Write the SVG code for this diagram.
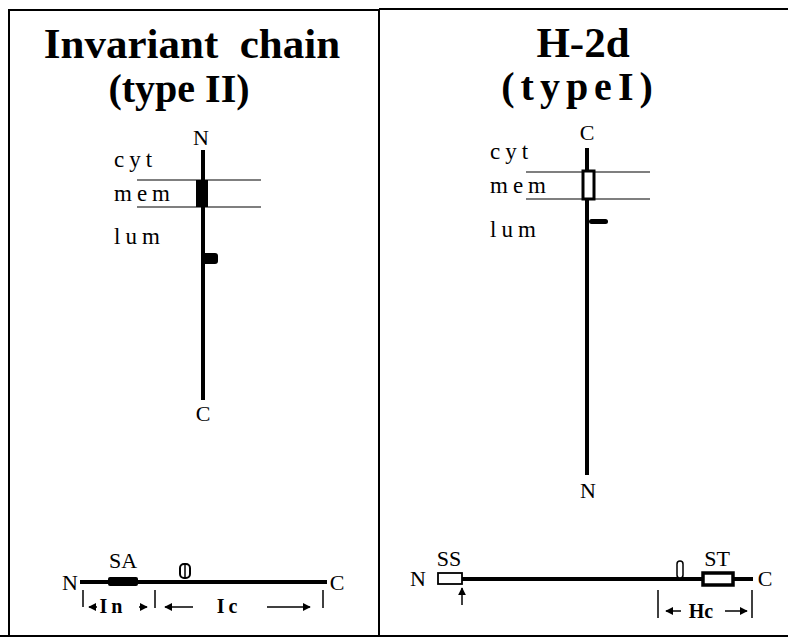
<svg xmlns="http://www.w3.org/2000/svg" width="788" height="638" viewBox="0 0 788 638">
<style>
.title{font-family:"Liberation Serif",serif;font-weight:bold;font-size:40px;fill:#000;white-space:pre}
.big{font-size:43px}
.lab{font-family:"Liberation Serif",serif;font-size:23px;fill:#000;letter-spacing:5px}
.end{font-family:"Liberation Serif",serif;font-size:22px;fill:#000}
.seg{font-family:"Liberation Serif",serif;font-weight:bold;font-size:20px;fill:#000}
.frame{stroke:#000;stroke-width:2;fill:none}
.mline{stroke:#000;stroke-width:1.2;fill:none}
.chain{stroke:#000;stroke-width:4;fill:none}
.thin{stroke:#000;stroke-width:1.5;fill:none}
</style>
<defs>
<marker id="ah" viewBox="0 0 10 10" refX="9" refY="5" markerWidth="8" markerHeight="8" markerUnits="userSpaceOnUse" orient="auto">
<path d="M0,0 L10,5 L0,10 z" fill="#000"/>
</marker>
</defs>
<rect width="788" height="638" fill="#fff"/>
<g id="frame">
<path class="frame" d="M9,637 V10 H379 M379,9 H788 M379,9 V637 M0,636 H788"/>
</g>
<g id="title-left">
<text class="title big" x="192" y="58" text-anchor="middle">Invariant  chain</text>
<text class="title" x="179" y="102" text-anchor="middle">(type II)</text>
</g>
<g id="title-right">
<text class="title big" x="583" y="57" text-anchor="middle">H-2d</text>
<text class="title" x="580" y="100" text-anchor="middle" letter-spacing="6">(typeI)</text>
</g>
<g id="membrane-left">
<line class="mline" x1="137" y1="180" x2="261" y2="180"/>
<line class="mline" x1="137" y1="207" x2="261" y2="207"/>
<text class="lab" x="114" y="167">cyt</text>
<text class="lab" x="114" y="201">mem</text>
<text class="lab" x="114" y="244">lum</text>
</g>
<g id="invariant-chain-vertical">
<line class="chain" x1="203" y1="150" x2="203" y2="400"/>
<rect x="196" y="180" width="12" height="27" fill="#000"/>
<rect x="202" y="253" width="16" height="11" rx="3" fill="#000"/>
<text class="end" x="201" y="145" text-anchor="middle">N</text>
<text class="end" x="203" y="421" text-anchor="middle">C</text>
</g>
<g id="membrane-right">
<line class="mline" x1="526" y1="172" x2="650" y2="172"/>
<line class="mline" x1="526" y1="199" x2="650" y2="199"/>
<text class="lab" x="490" y="159">cyt</text>
<text class="lab" x="490" y="193">mem</text>
<text class="lab" x="490" y="237">lum</text>
</g>
<g id="h2d-vertical">
<line class="chain" x1="587" y1="148" x2="587" y2="475"/>
<rect x="583" y="171" width="11" height="28" fill="#fff" stroke="#000" stroke-width="3"/>
<rect x="589" y="219" width="19" height="5" rx="2.5" fill="#000"/>
<text class="end" x="587" y="140" text-anchor="middle">C</text>
<text class="end" x="588" y="498" text-anchor="middle">N</text>
</g>
<g id="invariant-chain-linear">
<line class="chain" x1="80" y1="582" x2="327" y2="582"/>
<rect x="108" y="577" width="30" height="9" rx="2" fill="#000"/>
<rect x="180" y="564" width="10" height="14" rx="4" fill="#fff" stroke="#000" stroke-width="2"/>
<line x1="185" y1="565" x2="185" y2="577" stroke="#000" stroke-width="1.5"/>
<text class="end" x="70" y="590" text-anchor="middle">N</text>
<text class="end" x="337" y="590" text-anchor="middle">C</text>
<text class="end" x="123" y="568" text-anchor="middle">SA</text>
</g>
<g id="h2d-linear">
<line class="chain" x1="462" y1="579" x2="753" y2="579"/>
<rect x="438" y="573" width="24" height="11" fill="#fff" stroke="#000" stroke-width="1.8"/>
<rect x="677" y="561" width="6" height="17" rx="3" fill="#fff" stroke="#000" stroke-width="1.5"/>
<rect x="703" y="573" width="30" height="12" fill="#fff" stroke="#000" stroke-width="3.5"/>
<text class="end" x="418" y="586" text-anchor="middle">N</text>
<text class="end" x="765" y="586" text-anchor="middle">C</text>
<text class="end" x="449" y="566" text-anchor="middle">SS</text>
<text class="end" x="717" y="566" text-anchor="middle">ST</text>
</g>
<g id="connectors">
<line class="thin" x1="83" y1="590" x2="83" y2="607"/>
<line class="thin" x1="155" y1="590" x2="155" y2="608"/>
<line class="thin" x1="323" y1="590" x2="323" y2="608"/>
<line class="thin" x1="97" y1="607" x2="89" y2="607" marker-end="url(#ah)"/>
<line class="thin" x1="139" y1="607" x2="147" y2="607" marker-end="url(#ah)"/>
<line class="thin" x1="193" y1="607" x2="165" y2="607" marker-end="url(#ah)"/>
<line class="thin" x1="267" y1="607" x2="310" y2="607" marker-end="url(#ah)"/>
<text class="seg" x="113" y="613" text-anchor="middle" letter-spacing="4">In</text>
<text class="seg" x="229" y="613" text-anchor="middle" letter-spacing="4">Ic</text>
<line class="thin" x1="462" y1="605" x2="462" y2="588" marker-end="url(#ah)"/>
<line class="thin" x1="658" y1="590" x2="658" y2="618"/>
<line class="thin" x1="752" y1="590" x2="752" y2="618"/>
<line class="thin" x1="681" y1="611" x2="666" y2="611" marker-end="url(#ah)"/>
<line class="thin" x1="725" y1="611" x2="747" y2="611" marker-end="url(#ah)"/>
<text class="seg" x="701" y="618" text-anchor="middle">Hc</text>
</g>
</svg>
